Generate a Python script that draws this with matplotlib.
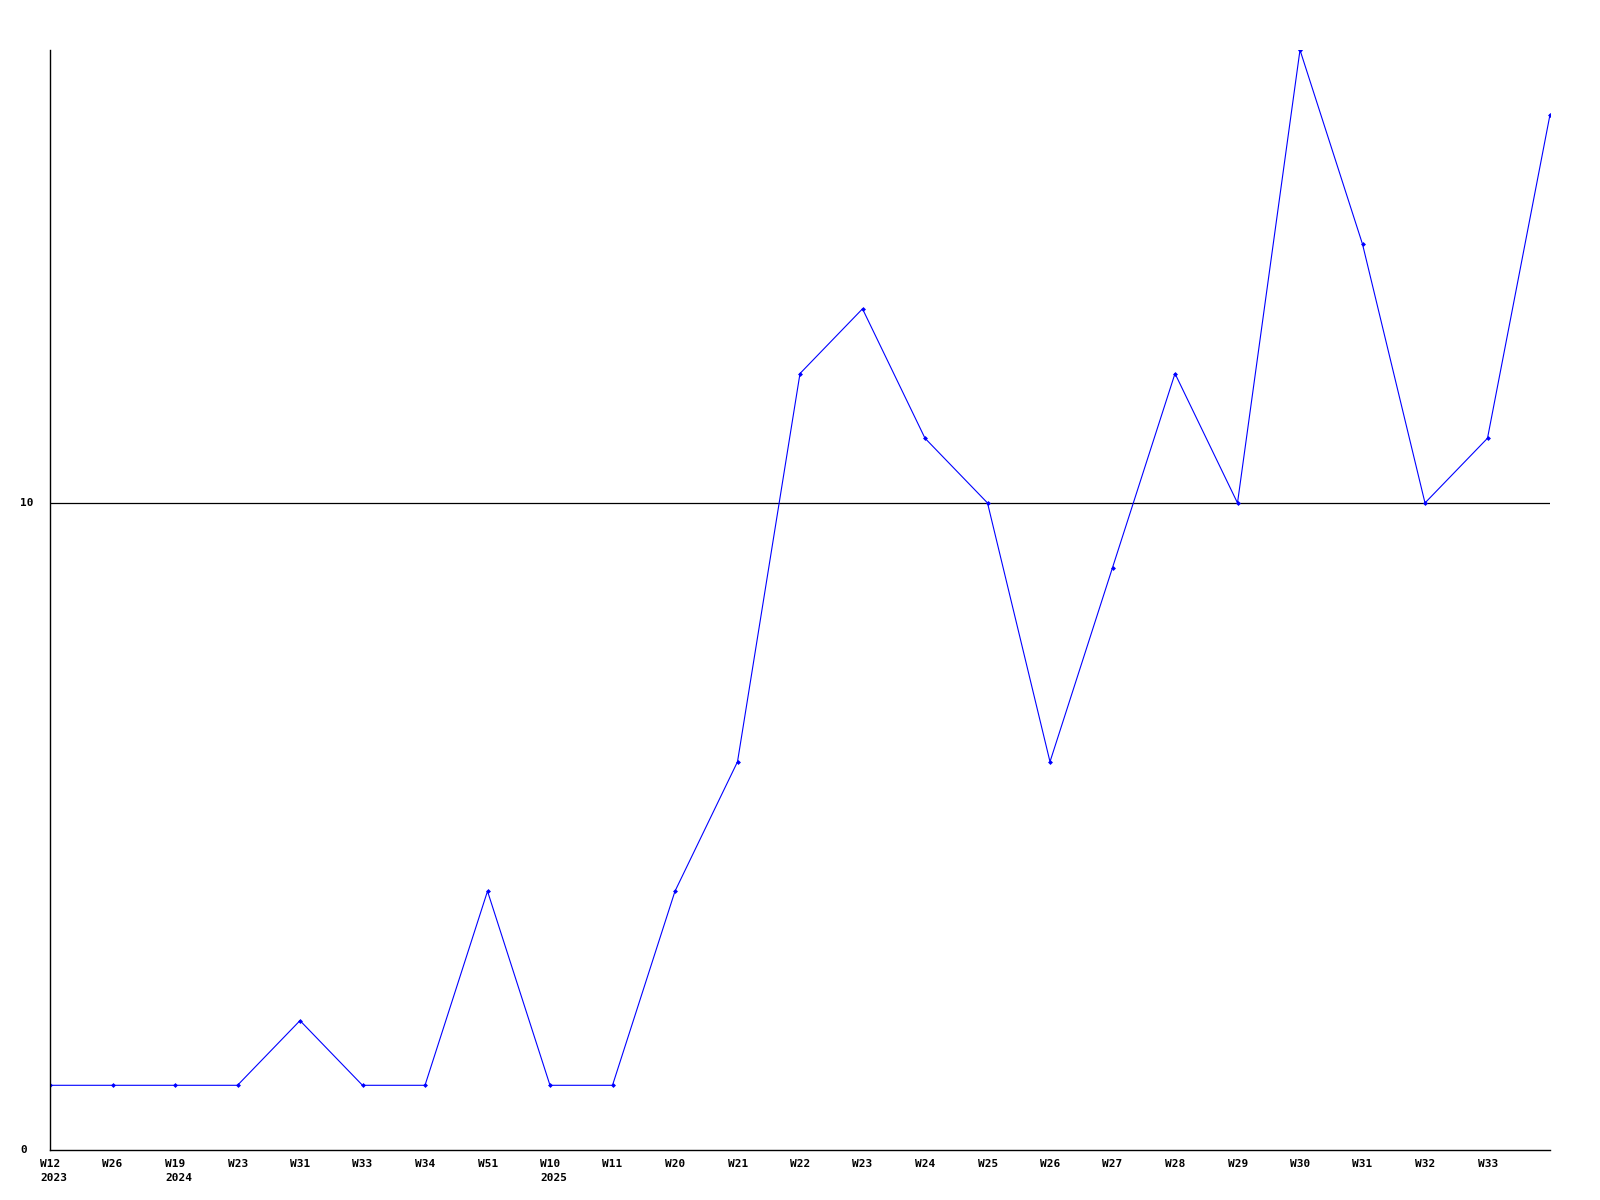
import numpy as np
import matplotlib
matplotlib.use('Agg')
import matplotlib.pyplot as plt
from matplotlib.transforms import offset_copy

# weekly counts
weeks = ['W12', 'W26', 'W19', 'W23', 'W31', 'W33', 'W34', 'W51', 'W10', 'W11',
         'W20', 'W21', 'W22', 'W23', 'W24', 'W25', 'W26', 'W27', 'W28', 'W29',
         'W30', 'W31', 'W32', 'W33', '']
years = {0: '2023', 2: '2024', 8: '2025'}
values = [1, 1, 1, 1, 2, 1, 1, 4, 1, 1,
          4, 6, 12, 13, 11, 10, 6, 9, 12, 10,
          17, 14, 10, 11, 16]
yticks = [0, 10]

x = np.arange(len(values))

fig = plt.figure(figsize=(16, 12), dpi=100)
ax = fig.add_axes([50/1600, 1 - 1150/1200, 1500/1600, 1100/1200])

ax.plot(x, values, color='#0000ff', linewidth=0.8, marker='D', markersize=2.5,
        markeredgewidth=0)
for yv in yticks[1:]:
    ax.axhline(yv, color='black', linewidth=0.9, zorder=0)

ax.set_xlim(0, len(values) - 1)
ax.set_ylim(0, max(values))
ax.set_xticks([])
ax.set_yticks([])
for s in ['top', 'right']:
    ax.spines[s].set_visible(False)
ax.spines['left'].set_linewidth(1.0)
ax.spines['bottom'].set_linewidth(1.0)

font = dict(family='DejaVu Sans Mono', fontweight='bold', fontsize=8)

# x labels, left-aligned a little before each point
tr = offset_copy(ax.get_xaxis_transform(), fig=fig, x=-10, y=-9, units='dots')
for i, w in enumerate(weeks):
    lab = w
    if i in years:
        lab = w + '\n' + years[i]
    ax.text(i, 0, lab, transform=tr, ha='left', va='top', linespacing=1.5, **font)

# y labels
tr2 = offset_copy(ax.get_yaxis_transform(), fig=fig, x=-30, y=0, units='dots')
for yv in yticks:
    ax.text(0, yv, str(yv), transform=tr2, ha='left', va='center', **font)

fig.savefig('out.png', dpi=100, facecolor='white')
